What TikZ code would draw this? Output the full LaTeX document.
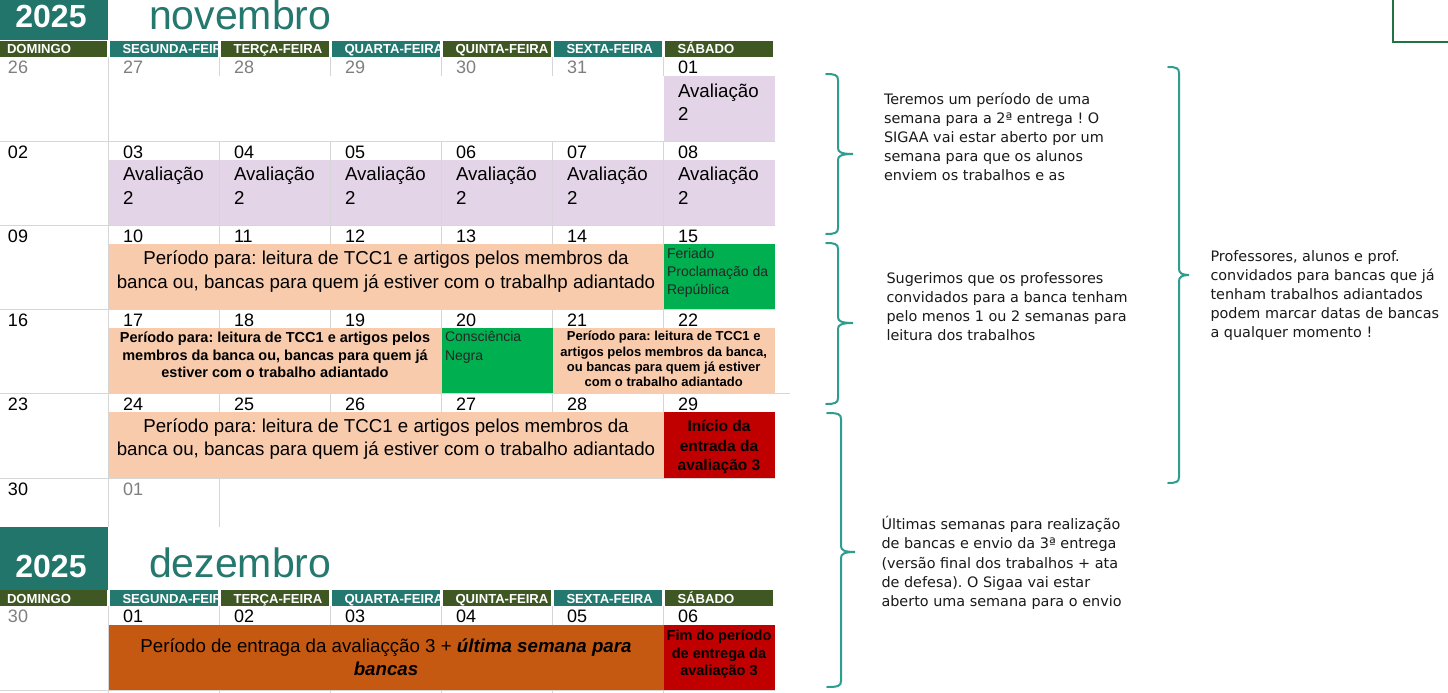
\documentclass[tikz,border=0pt]{standalone}
\usepackage{fontspec}
\setmainfont{Liberation Sans}
\newfontfamily\notefont{DejaVu Sans}
\definecolor{yearteal}{HTML}{21756B}
\definecolor{monthteal}{HTML}{24786E}
\definecolor{tealbar}{HTML}{23786F}
\definecolor{greenbar}{HTML}{3F5723}
\definecolor{dgray}{HTML}{7F7F7F}
\definecolor{gridgray}{HTML}{D6D6D6}
\definecolor{lav}{HTML}{E3D5E7}
\definecolor{peach}{HTML}{F8CBAD}
\definecolor{hgreen}{HTML}{00B050}
\definecolor{hred}{HTML}{C00000}
\definecolor{dorange}{HTML}{C65911}
\definecolor{braceteal}{HTML}{2E9D8F}
\definecolor{cornergreen}{HTML}{217346}
\definecolor{notegray}{HTML}{1A1A1A}
\frenchspacing
\tikzset{
 txt/.style={inner sep=0pt, outer sep=0pt, anchor=base west},
 ctxt/.style={inner sep=0pt, outer sep=0pt, anchor=base},
 datenum/.style={txt, font=\fontsize{18}{20}\selectfont},
 avtxt/.style={txt, font=\fontsize{18.7}{22}\selectfont},
 bigtxt/.style={ctxt, font=\fontsize{18.7}{22}\selectfont},
 boldsm/.style={ctxt, font=\bfseries\fontsize{14.5}{16}\selectfont},
 boldxs/.style={ctxt, font=\bfseries\fontsize{13}{15}\selectfont},
 greentxt/.style={txt, font=\fontsize{14}{16}\selectfont, text=black!85},
 redtxt/.style={ctxt, font=\bfseries\fontsize{15.5}{18}\selectfont},
 redsm/.style={ctxt, font=\bfseries\fontsize{14.5}{17}\selectfont},
 notetxt/.style={txt, font=\notefont\fontsize{14.4}{19}\selectfont, text=notegray},
 yeartxt/.style={ctxt, font=\bfseries\fontsize{32}{34}\selectfont, text=white},
 monthtxt/.style={txt, font=\fontsize{41}{44}\selectfont, text=monthteal},
 dayhdr/.style={txt, font=\bfseries\fontsize{13.1}{14}\selectfont, text=white},
 grid/.style={draw=gridgray, line width=1pt},
 bracestyle/.style={draw=braceteal, line width=2pt, line cap=round},
}
\newcommand\daterow[3]{%
 \foreach \dn/\cl [count=\i from 0] in {#3}{%
  \pgfmathsetmacro\dx{ifthenelse(\i==0,8,123+(\i-1)*111)}%
  \node[datenum, text=\cl] (#2-\i) at (\dx,#1) {\dn};
 }}
% #1 hook x, #2 spine x, #3 tip x, #4 top, #5 mid, #6 bottom
\newcommand\tealbrace[6]{%
 \draw[bracestyle] (#1,#4) .. controls (#2-3,#4) and (#2,#4+1) .. (#2,#4+6)
   -- (#2,#5-6) .. controls (#2,#5-2) and (#2+3,#5) .. (#3,#5)
   .. controls (#2+3,#5) and (#2,#5+2) .. (#2,#5+6)
   -- (#2,#6-6) .. controls (#2,#6-1) and (#2-3,#6) .. (#1,#6);}
\begin{document}
\begin{tikzpicture}[x=1pt,y=-1pt]
\useasboundingbox (0,0) rectangle (1448,693);
\fill[white] (0,0) rectangle (1448,693);

% ---- year / month titles
\fill[yearteal] (0,0) rectangle (108,40);
\node[yeartxt] (y1) at (51,28) {2025};
\node[monthtxt] (m1) at (149,30) {novembro};
\fill[yearteal] (0,527) rectangle (108,590);
\node[yeartxt] (y2) at (51,577) {2025};
\node[monthtxt] (m2) at (149,577) {dezembro};

% ---- weekday header bars
\foreach \yy in {41,590}{
 \foreach \nm [count=\i from 0] in {DOMINGO,SEGUNDA-FEIRA,TERÇA-FEIRA,QUARTA-FEIRA,QUINTA-FEIRA,SEXTA-FEIRA,SÁBADO}{
  \pgfmathsetmacro\bl{ifthenelse(\i==0,0,110+(\i-1)*111)}
  \pgfmathsetmacro\br{ifthenelse(\i==0,107,\bl+108)}
  \pgfmathsetmacro\tx{ifthenelse(\i==0,7,\bl+12.5)}
  \ifodd\i\relax\def\bc{tealbar}\else\def\bc{greenbar}\fi
  \fill[\bc] (\bl,\yy) rectangle (\br,\yy+16);
  \begin{scope}
   \clip (\bl,\yy) rectangle (\br,\yy+16);
   \node[dayhdr] (h\yy-\i) at (\tx,\yy+13) {\nm};
  \end{scope}
 }
}

% ---- coloured cells
\fill[lav] (663.5,76) rectangle (775,141);
\fill[lav] (108.5,160) rectangle (775,225);
\fill[peach] (108.5,244) rectangle (663.5,309);
\fill[hgreen] (663.5,244) rectangle (775,309);
\fill[peach] (108.5,328) rectangle (441.5,393);
\fill[hgreen] (441.5,328) rectangle (552.5,393);
\fill[peach] (552.5,328) rectangle (775,393);
\fill[peach] (108.5,412) rectangle (663.5,478);
\fill[hred] (663.5,412) rectangle (775,478);
\fill[dorange] (108.5,625) rectangle (663.5,690);
\fill[hred] (663.5,625) rectangle (775,690);

% ---- grid lines
\foreach \yy in {141,225,309,478}{\draw[grid] (0,\yy) -- (775,\yy);}
\draw[grid] (0,393) -- (790,393);
\draw[grid] (0,690.5) -- (775,690.5);
\draw[grid] (108.5,57) -- (108.5,527);
\draw[grid] (108.5,606) -- (108.5,693);
\foreach \t in {57,141,225,309,393,606}{
 \foreach \xx in {219.5,330.5,441.5,552.5,663.5}{\draw[grid] (\xx,\t) -- (\xx,\t+19);}}
\foreach \xx in {219.5,330.5,441.5,552.5,663.5}{
 \draw[grid] (\xx,141) -- (\xx,225);
 \draw[grid] (\xx,690) -- (\xx,693);}
\draw[grid] (219.5,478) -- (219.5,527);

% ---- date numbers
\daterow{74}{r1}{26/dgray,27/dgray,28/dgray,29/dgray,30/dgray,31/dgray,01/black}
\daterow{158}{r2}{02/black,03/black,04/black,05/black,06/black,07/black,08/black}
\daterow{242}{r3}{09/black,10/black,11/black,12/black,13/black,14/black,15/black}
\daterow{326}{r4}{16/black,17/black,18/black,19/black,20/black,21/black,22/black}
\daterow{410}{r5}{23/black,24/black,25/black,26/black,27/black,28/black,29/black}
\daterow{495}{r6}{30/black,01/dgray}
\daterow{622}{r7}{30/dgray,01/black,02/black,03/black,04/black,05/black,06/black}

% ---- Avaliação 2
\node[avtxt] (av0a) at (678,97) {Avaliação};
\node[avtxt] (av0b) at (678,120) {2};
\foreach \k in {1,...,6}{
 \node[avtxt] (av\k a) at ({123+(\k-1)*111},180) {Avaliação};
 \node[avtxt] (av\k b) at ({123+(\k-1)*111},204) {2};
}

% ---- row 3
\node[bigtxt] (p3a) at (386,264) {Período para: leitura de TCC1 e artigos pelos membros da};
\node[bigtxt] (p3b) at (386,288) {banca ou, bancas para quem já estiver com o trabalhp adiantado};
\node[greentxt] (f1) at (667,258) {Feriado};
\node[greentxt] (f2) at (667,276) {Proclamação da};
\node[greentxt] (f3) at (667,294) {República};

% ---- row 4
\node[boldsm] (p4a) at (275,342.5) {Período para: leitura de TCC1 e artigos pelos};
\node[boldsm] (p4b) at (275,360) {membros da banca ou, bancas para quem já};
\node[boldsm] (p4c) at (275,377.5) {estiver com o trabalho adiantado};
\node[greentxt] (cn1) at (445,341.5) {Consciência};
\node[greentxt] (cn2) at (445,360) {Negra};
\node[boldxs] (q4a) at (663.7,340.7) {Período para: leitura de TCC1 e};
\node[boldxs] (q4b) at (663.7,356) {artigos pelos membros da banca,};
\node[boldxs] (q4c) at (663.7,371.5) {ou bancas para quem já estiver};
\node[boldxs] (q4d) at (663.7,386.7) {com o trabalho adiantado};

% ---- row 5
\node[bigtxt] (p5a) at (386,432) {Período para: leitura de TCC1 e artigos pelos membros da};
\node[bigtxt] (p5b) at (386,455) {banca ou, bancas para quem já estiver com o trabalho adiantado};
\node[redtxt] (i1) at (719,431.7) {Início da};
\node[redtxt] (i2) at (719,451.2) {entrada da};
\node[redtxt] (i3) at (719,470.7) {avaliação 3};

% ---- december row
\node[bigtxt] (o1) at (386,652.7) {Período de entraga da avaliaçção 3 + \textbf{\itshape última semana para}};
\node[bigtxt] (o2) at (386,675.5) {\textbf{\itshape bancas}};
\node[redsm] (e1) at (719,640) {Fim do período};
\node[redsm] (e2) at (719,658) {de entrega da};
\node[redsm] (e3) at (719,675.5) {avaliação 3};

% ---- braces
\tealbrace{826}{838}{853}{74}{154}{234}
\tealbrace{826}{838}{853}{243}{323}{404}
\tealbrace{827}{841}{855}{413}{552}{687}
\tealbrace{1168}{1179}{1189}{67}{275}{483}

% ---- notes
\node[notetxt] (n1a) at (884,104) {Teremos um período de uma};
\node[notetxt] (n1b) at (884,123) {semana para a 2ª entrega ! O};
\node[notetxt] (n1c) at (884,142) {SIGAA vai estar aberto por um};
\node[notetxt] (n1d) at (884,161) {semana para que os alunos};
\node[notetxt] (n1e) at (884,180) {enviem os trabalhos e as};

\node[notetxt] (n2a) at (886.5,283) {Sugerimos que os professores};
\node[notetxt] (n2b) at (886.5,302) {convidados para a banca tenham};
\node[notetxt] (n2c) at (886.5,321) {pelo menos 1 ou 2 semanas para};
\node[notetxt] (n2d) at (886.5,340) {leitura dos trabalhos};

\node[notetxt] (n3a) at (1210.5,261) {Professores, alunos e prof.};
\node[notetxt] (n3b) at (1210.5,280) {convidados para bancas que já};
\node[notetxt] (n3c) at (1210.5,299) {tenham trabalhos adiantados};
\node[notetxt] (n3d) at (1210.5,318) {podem marcar datas de bancas};
\node[notetxt] (n3e) at (1210.5,337) {a qualquer momento !};

\node[notetxt] (n4a) at (881.5,529) {Últimas semanas para realização};
\node[notetxt] (n4b) at (881.5,548) {de bancas e envio da 3ª entrega};
\node[notetxt] (n4c) at (881.5,568) {(versão final dos trabalhos + ata};
\node[notetxt] (n4d) at (881.5,587) {de defesa). O Sigaa vai estar};
\node[notetxt] (n4e) at (881.5,606) {aberto uma semana para o envio};

% ---- top-right corner mark
\draw[cornergreen, line width=2pt] (1393,0) -- (1393,42) -- (1448,42);
\end{tikzpicture}
\end{document}
